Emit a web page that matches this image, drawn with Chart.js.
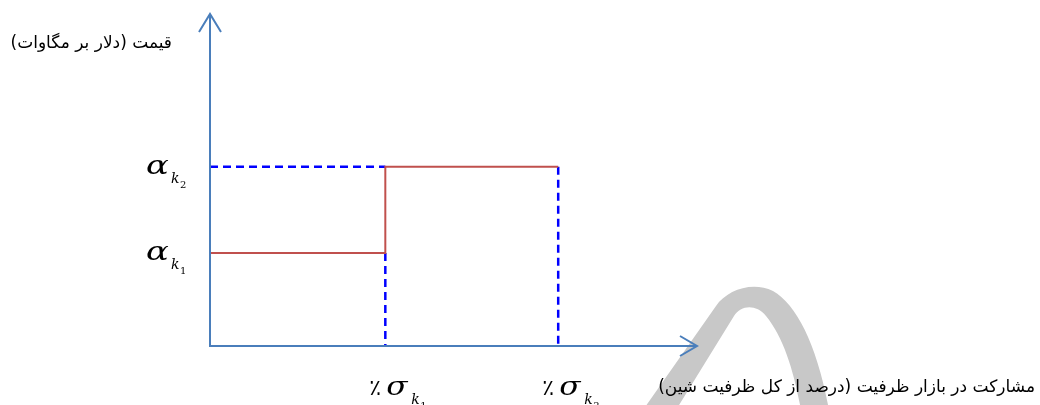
<!DOCTYPE html>
<html>
<head>
<meta charset="utf-8">
<script src="https://cdn.jsdelivr.net/npm/chart.js@4/dist/chart.umd.min.js"></script>
<style>
  body { margin: 0; background: #fff; }
  canvas { display: block; }
</style>
</head>
<body>
<canvas id="bidChart" width="1040" height="405"></canvas>
<script>
// capacity shares (x) and price levels (y) of the two bid steps
const sigmaValues = [36, 71.5];
const alphaValues = [28, 54];
const stepIndex = ["1", "2"];
const yTitle = "قیمت (دلار بر مگاوات)";
const xTitle = "مشارکت در بازار ظرفیت (درصد از کل ظرفیت شین)";
const axisMax = 100;

const axisColor = "#4a7ebb";
const stepColor = "#c0504d";
const guideColor = "#0000ff";

const supplyCurve = [
  { x: 0, y: alphaValues[0] },
  { x: sigmaValues[0], y: alphaValues[0] },
  { x: sigmaValues[0], y: alphaValues[1] },
  { x: sigmaValues[1], y: alphaValues[1] }
];

function guide(points) {
  return {
    data: points,
    borderColor: guideColor,
    borderWidth: 2.5,
    borderDash: [8, 5],
    pointRadius: 0,
    showLine: true,
    clip: false,
    order: 2
  };
}

// grey page watermark behind the plot
const watermark = {
  id: "watermark",
  beforeDatasetsDraw(chart) {
    const ctx = chart.ctx;
    ctx.save();
    ctx.fillStyle = "#c8c8c8";
    ctx.beginPath();
    ctx.moveTo(643, 410);
    ctx.lineTo(716, 306);
    ctx.bezierCurveTo(727, 290, 752, 281, 773, 291);
    ctx.bezierCurveTo(797, 305, 817, 345, 829, 410);
    ctx.lineTo(801, 410);
    ctx.bezierCurveTo(794, 372, 784, 338, 766, 316);
    ctx.bezierCurveTo(756, 304, 741, 305, 734, 316);
    ctx.lineTo(676, 410);
    ctx.closePath();
    ctx.fill();
    ctx.restore();
  }
};

function stretched(ctx, text, x, y, sx) {
  ctx.save();
  ctx.translate(x, y);
  ctx.scale(sx, 1);
  ctx.fillText(text, 0, 0);
  ctx.restore();
}

const axesAndLabels = {
  id: "axesAndLabels",
  afterDatasetsDraw(chart) {
    const ctx = chart.ctx;
    const xs = chart.scales.x, ys = chart.scales.y;
    const x0 = xs.getPixelForValue(0), y0 = ys.getPixelForValue(0);
    const xEnd = xs.getPixelForValue(axisMax), yEnd = ys.getPixelForValue(axisMax);

    // axes with open arrow heads
    ctx.save();
    ctx.strokeStyle = axisColor;
    ctx.lineWidth = 2;
    ctx.beginPath();
    ctx.moveTo(x0, yEnd);
    ctx.lineTo(x0, y0);
    ctx.lineTo(xEnd, y0);
    ctx.stroke();
    ctx.beginPath();
    ctx.moveTo(x0 - 11, yEnd + 18);
    ctx.lineTo(x0, yEnd);
    ctx.lineTo(x0 + 11, yEnd + 18);
    ctx.moveTo(xEnd - 17, y0 - 10);
    ctx.lineTo(xEnd, y0);
    ctx.lineTo(xEnd - 17, y0 + 10);
    ctx.stroke();
    ctx.restore();

    ctx.save();
    ctx.fillStyle = "#000";
    ctx.textAlign = "left";

    // price levels alpha_k
    alphaValues.forEach((v, i) => {
      const py = ys.getPixelForValue(v);
      ctx.font = "italic 26px 'DejaVu Serif'";
      stretched(ctx, "α", 146, py + 7, 1.3);
      ctx.font = "italic 14px 'DejaVu Serif'";
      ctx.fillText("k", 171, py + 16);
      ctx.font = "10px 'DejaVu Serif'";
      ctx.fillText(stepIndex[i], 180, py + 21);
    });

    // capacity shares %sigma_k
    sigmaValues.forEach((v, i) => {
      const px = xs.getPixelForValue(v);
      ctx.font = "22px 'DejaVu Sans'";
      ctx.fillText("٪", px - 16, 395);
      ctx.font = "italic 26px 'DejaVu Serif'";
      stretched(ctx, "σ", px + 1, 395, 1.2);
      ctx.font = "italic 14px 'DejaVu Serif'";
      ctx.fillText("k", px + 26, 404);
      ctx.font = "10px 'DejaVu Serif'";
      ctx.fillText(stepIndex[i], px + 35, 409);
    });

    // axis titles (right-to-left)
    ctx.direction = "rtl";
    ctx.textAlign = "right";
    ctx.font = "17px 'DejaVu Sans'";
    ctx.fillText(yTitle, 172, 48);
    ctx.fillText(xTitle, 1035, 392);
    ctx.restore();
  }
};

new Chart(document.getElementById("bidChart"), {
  type: "scatter",
  data: {
    datasets: [
      {
        data: supplyCurve,
        borderColor: stepColor,
        borderWidth: 2,
        pointRadius: 0,
        showLine: true,
        clip: false,
        order: 1
      },
      guide([{ x: 0, y: alphaValues[1] }, { x: sigmaValues[0], y: alphaValues[1] }]),
      guide([{ x: sigmaValues[0], y: alphaValues[0] }, { x: sigmaValues[0], y: 0 }]),
      guide([{ x: sigmaValues[1], y: alphaValues[1] }, { x: sigmaValues[1], y: 0 }])
    ]
  },
  options: {
    responsive: false,
    animation: false,
    devicePixelRatio: 1,
    layout: { padding: { left: 210, right: 343, top: 14, bottom: 59 } },
    plugins: { legend: { display: false }, tooltip: { enabled: false } },
    scales: {
      x: { type: "linear", min: 0, max: axisMax, display: false },
      y: { type: "linear", min: 0, max: axisMax, display: false }
    }
  },
  plugins: [watermark, axesAndLabels]
});
</script>
</body>
</html>
